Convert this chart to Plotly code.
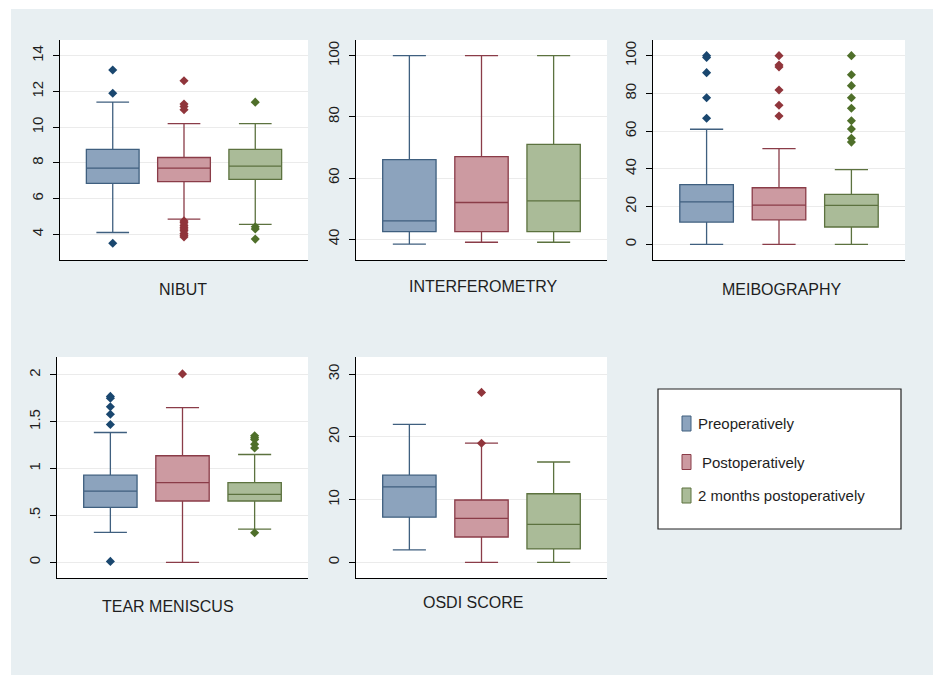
import plotly.graph_objects as go

W, H = 933, 675

groups = ["Preoperatively", "Postoperatively", "2 months postoperatively"]
positions = [-1, 0, 1]

# five-number summaries per group: [lower whisker, q1, median, q3, upper whisker]
nibut_box = [[4.1, 6.85, 7.7, 8.75, 11.4],
             [4.85, 6.95, 7.7, 8.3, 10.2],
             [4.55, 7.08, 7.82, 8.75, 10.2]]
nibut_out = [[13.2, 11.9, 3.5],
             [12.6, 11.3, 11.15, 10.98, 4.75, 4.65, 4.5, 4.4, 4.3, 4.2, 4.05, 3.95, 3.85],
             [11.4, 4.42, 4.3, 3.73]]

interf_box = [[38.4, 42.5, 46.0, 66.0, 100],
              [39.0, 42.5, 52.0, 67.0, 100],
              [39.0, 42.5, 52.5, 71.0, 100]]
interf_out = [[], [], []]

meibo_box = [[0, 11.8, 22.5, 31.6, 61],
             [0, 13.0, 20.8, 30.0, 50.7],
             [0, 9.2, 20.7, 26.5, 39.6]]
meibo_out = [[100, 99, 91, 77.7, 66.8],
             [100, 95, 94, 81.8, 73.7, 68],
             [100, 89.9, 84.1, 77.7, 72.1, 65.5, 61.1, 56.2, 54.2]]

tear_box = [[0.32, 0.586, 0.76, 0.93, 1.385],
            [0.0, 0.654, 0.85, 1.137, 1.65],
            [0.355, 0.654, 0.724, 0.85, 1.15]]
tear_out = [[1.77, 1.75, 1.66, 1.58, 1.47, 0.01],
            [2.01],
            [1.35, 1.33, 1.31, 1.26, 1.22, 0.316]]

osdi_box = [[2.0, 7.2, 12.05, 13.9, 22.0],
            [0.0, 4.04, 7.0, 9.94, 19.0],
            [0.0, 2.13, 6.05, 10.94, 16.0]]
osdi_out = [[], [27.1, 19.0], []]

panel_titles = ["NIBUT", "INTERFEROMETRY", "MEIBOGRAPHY", "TEAR MENISCUS", "OSDI SCORE"]
nibut_ticks = [4, 6, 8, 10, 12, 14]
interf_ticks = [40, 60, 80, 100]
meibo_ticks = [0, 20, 40, 60, 80, 100]
tear_ticks = [0, 0.5, 1, 1.5, 2]
tear_ticklabels = ["0", ".5", "1", "1.5", "2"]
osdi_ticks = [0, 10, 20, 30]

fill_colors = ["#8ca3bd", "#cc9aa1", "#aabb98"]
line_colors = ["#3f5f7f", "#8a3c48", "#5c723f"]
marker_colors = ["#1a476f", "#90353b", "#4f6f2a"]

BG = "#e8eff2"
FONT = "Liberation Sans, Arial, sans-serif"

# layout geometry (pixels)
panel_px = [
    (60, 308, 40, 260),
    (356, 607, 40, 260),
    (653, 905, 40, 260),
    (57, 308, 357, 578),
    (356, 607, 357, 578),
]
yranges = [(2.56, 14.88), (33.2, 105.1), (-8.3, 108.3), (-0.167, 2.19), (-2.5, 32.75)]
title_px = [(183, 289), (483, 287), (781, 290), (168, 606), (473, 602)]

boxes = [nibut_box, interf_box, meibo_box, tear_box, osdi_box]
outs = [nibut_out, interf_out, meibo_out, tear_out, osdi_out]
ticks = [(nibut_ticks, [str(t) for t in nibut_ticks]),
         (interf_ticks, [str(t) for t in interf_ticks]),
         (meibo_ticks, [str(t) for t in meibo_ticks]),
         (tear_ticks, tear_ticklabels),
         (osdi_ticks, [str(t) for t in osdi_ticks])]

fig = go.Figure()
layout = dict(
    width=W, height=H,
    margin=dict(l=0, r=0, t=0, b=0),
    paper_bgcolor=BG, plot_bgcolor="white",
    showlegend=False,
    font=dict(family=FONT, size=14, color="#1e1e1e"),
)

annotations = []
shapes = []

for i in range(5):
    x0, x1, y0, y1 = panel_px[i]
    suffix = "" if i == 0 else str(i + 1)
    xa, ya = "x" + suffix, "y" + suffix
    layout["xaxis" + suffix] = dict(
        domain=[x0 / W, x1 / W], range=[-1.74, 1.74], anchor=ya,
        showline=True, linecolor="black", linewidth=1, showgrid=False,
        zeroline=False, showticklabels=False, ticks="", fixedrange=True)
    tv, tt = ticks[i]
    layout["yaxis" + suffix] = dict(
        domain=[1 - y1 / H, 1 - y0 / H], range=list(yranges[i]), anchor=xa,
        showline=True, linecolor="black", linewidth=1, showgrid=True,
        gridcolor="#ebebeb", gridwidth=1, zeroline=False,
        ticks="outside", ticklen=6, tickcolor="black", tickwidth=1,
        tickvals=tv, ticktext=tt, tickangle=-90, ticklabelstandoff=4,
        tickfont=dict(family=FONT, size=15, color="#1e1e1e"), fixedrange=True)
    for g in range(3):
        lo, q1, med, q3, hi = boxes[i][g]
        fig.add_trace(go.Box(
            x=[positions[g]], q1=[q1], median=[med], q3=[q3],
            lowerfence=[lo], upperfence=[hi], width=0.74, whiskerwidth=0.62,
            fillcolor=fill_colors[g], line=dict(color=line_colors[g], width=1.3),
            boxpoints=False, name=groups[g], xaxis=xa, yaxis=ya))
        if outs[i][g]:
            fig.add_trace(go.Scatter(
                x=[positions[g]] * len(outs[i][g]), y=outs[i][g], mode="markers",
                marker=dict(symbol="diamond", size=7, color=marker_colors[g]),
                name=groups[g], xaxis=xa, yaxis=ya))
    tx, ty = title_px[i]
    annotations.append(dict(
        x=tx / W, y=1 - ty / H, xref="paper", yref="paper", text=panel_titles[i],
        showarrow=False, xanchor="center", yanchor="middle",
        font=dict(family=FONT, size=16, color="#1e1e1e")))

# white outer border strips
shapes.append(dict(type="rect", xref="paper", yref="paper", x0=0, x1=11 / W, y0=0, y1=1,
                   fillcolor="white", line=dict(width=0), layer="above"))
shapes.append(dict(type="rect", xref="paper", yref="paper", x0=0, x1=1, y0=1 - 9 / H, y1=1,
                   fillcolor="white", line=dict(width=0), layer="above"))

# legend box
shapes.append(dict(type="rect", xref="paper", yref="paper",
                   x0=658 / W, x1=901 / W, y0=1 - 529 / H, y1=1 - 389 / H,
                   fillcolor="white", line=dict(color="#222222", width=1.2), layer="above"))
leg_y = [423.5, 462, 495.5]
leg_tx = [696, 700, 696]
for g in range(3):
    cy = leg_y[g]
    shapes.append(dict(type="rect", xref="paper", yref="paper",
                       x0=682 / W, x1=691 / W, y0=1 - (cy + 7.5) / H, y1=1 - (cy - 7.5) / H,
                       fillcolor=fill_colors[g], line=dict(color=line_colors[g], width=1),
                       layer="above"))
    annotations.append(dict(
        x=leg_tx[g] / W, y=1 - cy / H, xref="paper", yref="paper", text=groups[g],
        showarrow=False, xanchor="left", yanchor="middle",
        font=dict(family=FONT, size=15, color="#1e1e1e")))

layout["annotations"] = annotations
layout["shapes"] = shapes
fig.update_layout(**layout)
fig.write_html("out.html", config={"displayModeBar": False},
               post_script="document.body.style.margin='0';document.body.style.overflow='hidden';")
